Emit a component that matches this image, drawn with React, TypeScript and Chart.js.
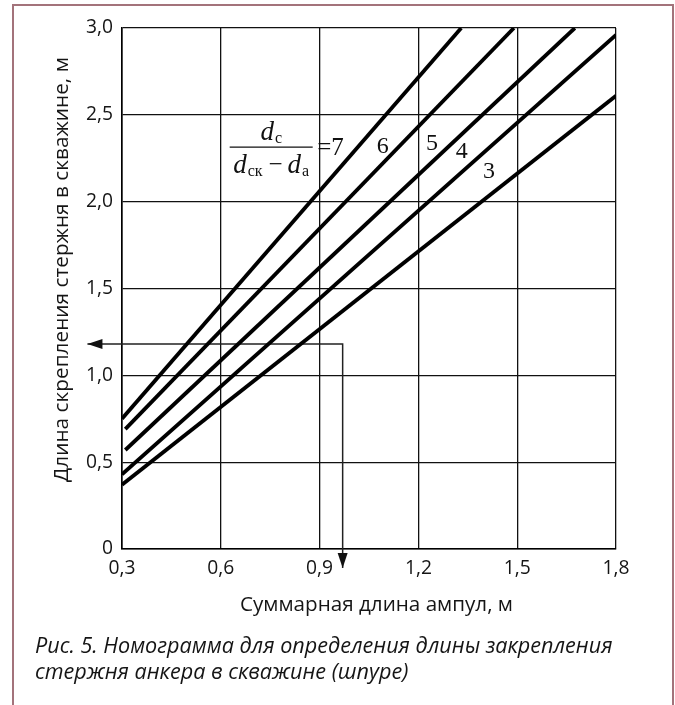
import React, { useEffect, useRef } from 'react';
import { Chart, registerables } from 'chart.js';

Chart.register(...registerables);

// ---- axis ticks ----
const xTickValues = [0.3, 0.6, 0.9, 1.2, 1.5, 1.8];
const xTickLabels = ['0,3', '0,6', '0,9', '1,2', '1,5', '1,8'];
const yTickValues = [0, 0.5, 1.0, 1.5, 2.0, 2.5, 3.0];
const yTickLabels = ['0', '0,5', '1,0', '1,5', '2,0', '2,5', '3,0'];

// ---- nomogram lines: d_c / (d_ck - d_a) = 7, 6, 5, 4, 3 ----
const ratioNames = ['7', '6', '5', '4', '3'];
const ratio7X = [0.30, 1.33];
const ratio7Y = [0.75, 3.00];
const ratio6X = [0.31, 1.49];
const ratio6Y = [0.69, 3.00];
const ratio5X = [0.31, 1.675];
const ratio5Y = [0.57, 3.00];
const ratio4X = [0.30, 1.80];
const ratio4Y = [0.43, 2.96];
const ratio3X = [0.30, 1.80];
const ratio3Y = [0.37, 2.61];

// ---- example reading (arrow path) ----
const exampleX = [0.195, 0.97, 0.97];
const exampleY = [1.18, 1.18, -0.11];

// ---- texts ----
const yTitle = 'Длина скрепления стержня в скважине, м';
const xTitle = 'Суммарная длина ампул, м';
const captionLines = [
  'Рис. 5. Номограмма для определения длины закрепления',
  'стержня анкера в скважине (шпуре)',
];

// ---- annotation anchors (data coordinates) ----
const formulaAnchor = { x: 0.753, y: 2.314 };
const ratioLabelAnchorsX = [1.092, 1.241, 1.332, 1.414]; // for 6, 5, 4, 3
const ratioLabelAnchorsY = [2.314, 2.332, 2.286, 2.171];

const SANS = '"Open Sans", "Noto Sans", sans-serif';
const SERIF = '"Liberation Serif", "DejaVu Serif", serif';

// font size that makes a text span a given width (layout styling)
function fitSize(text: string, style: string, target: number): number {
  const c = document.createElement('canvas').getContext('2d');
  if (!c) return 18;
  c.font = `${style} 100px ${SANS}`;
  const w = c.measureText(text).width;
  return w > 0 ? (100 * target) / w : 18;
}

const TEXT = '#151515';

export default function App() {
  const ref = useRef<HTMLCanvasElement>(null);
  const captionSize = fitSize(captionLines[0], 'italic', 578);

  useEffect(() => {
    const canvas = ref.current;
    if (!canvas) return;
    const tickSize = fitSize(xTickLabels[0], '', 27);
    const xTitleSize = fitSize(xTitle, '', 273);
    const yTitleSize = fitSize(yTitle, '', 425);

    const overlayPlugin = {
      id: 'overlay',
      afterDatasetsDraw(chart: any) {
        const { ctx, scales } = chart;
        const xs = scales.x;
        const ys = scales.y;
        ctx.save();

        // arrowheads on the example path
        const pts = exampleX.map((v, i) => [xs.getPixelForValue(v), ys.getPixelForValue(exampleY[i])]);
        const head = (tip: number[], from: number[]) => {
          const a = Math.atan2(tip[1] - from[1], tip[0] - from[0]);
          const L = 15;
          const W = 5;
          const bx = tip[0] - L * Math.cos(a);
          const by = tip[1] - L * Math.sin(a);
          ctx.beginPath();
          ctx.moveTo(tip[0], tip[1]);
          ctx.lineTo(bx + W * Math.sin(a), by - W * Math.cos(a));
          ctx.lineTo(bx - W * Math.sin(a), by + W * Math.cos(a));
          ctx.closePath();
          ctx.fillStyle = '#111';
          ctx.fill();
        };
        head(pts[0], pts[1]);
        head(pts[pts.length - 1], pts[pts.length - 2]);

        // axis titles
        ctx.fillStyle = TEXT;
        ctx.textAlign = 'center';
        ctx.textBaseline = 'middle';
        ctx.font = `${xTitleSize}px ${SANS}`;
        ctx.fillText(xTitle, (xs.left + xs.right) / 2 + 7.5, 605);
        ctx.save();
        ctx.translate(62, (ys.top + ys.bottom) / 2 - 19);
        ctx.rotate(-Math.PI / 2);
        ctx.font = `${yTitleSize}px ${SANS}`;
        ctx.fillText(yTitle, 0, 0);
        ctx.restore();

        // formula d_c / (d_ck - d_a) = 7
        const cx = xs.getPixelForValue(formulaAnchor.x);
        const cy = ys.getPixelForValue(formulaAnchor.y);
        ctx.fillStyle = '#111';
        ctx.strokeStyle = '#111';
        ctx.textBaseline = 'alphabetic';
        ctx.textAlign = 'left';
        const dFont = 'italic 27px ' + SERIF;
        const subFont = '16px ' + SERIF;
        const opFont = '25px ' + SERIF;

        ctx.font = dFont;
        const wd = ctx.measureText('d').width;
        ctx.font = subFont;
        const wc = ctx.measureText('с').width;
        const numW = wd + 1 + wc;
        let sx = cx - numW / 2;
        const nb = cy - 7;
        ctx.font = dFont;
        ctx.fillText('d', sx, nb);
        ctx.font = subFont;
        ctx.fillText('с', sx + wd + 1, nb + 3);

        ctx.lineWidth = 1.4;
        ctx.beginPath();
        ctx.moveTo(cx - 41.5, cy);
        ctx.lineTo(cx + 41.5, cy);
        ctx.stroke();

        const db = cy + 26;
        ctx.font = subFont;
        const wck = ctx.measureText('ск').width;
        const wa = ctx.measureText('а').width;
        ctx.font = opFont;
        const wm = ctx.measureText('−').width;
        const denW = wd + 1 + wck + 6 + wm + 5 + wd + 1 + wa;
        sx = cx - denW / 2;
        ctx.font = dFont;
        ctx.fillText('d', sx, db);
        sx += wd + 1;
        ctx.font = subFont;
        ctx.fillText('ск', sx, db + 3);
        sx += wck + 6;
        ctx.font = opFont;
        ctx.fillText('−', sx, db - 1);
        sx += wm + 5;
        ctx.font = dFont;
        ctx.fillText('d', sx, db);
        sx += wd + 1;
        ctx.font = subFont;
        ctx.fillText('а', sx, db + 3);

        ctx.font = opFont;
        ctx.fillText('=' + ratioNames[0], cx + 46, cy + 8);

        ctx.textAlign = 'center';
        ctx.textBaseline = 'middle';
        ctx.font = '24px ' + SERIF;
        ratioLabelAnchorsX.forEach((v, i) => {
          ctx.fillText(ratioNames[i + 1], xs.getPixelForValue(v), ys.getPixelForValue(ratioLabelAnchorsY[i]));
        });
        ctx.restore();
      },
    };

    const pairs = (xa: number[], ya: number[]) => xa.map((x, i) => ({ x, y: ya[i] }));
    const lineStyle = {
      borderColor: '#000',
      borderWidth: 3.8,
      pointRadius: 0,
      fill: false,
      tension: 0,
      borderCapStyle: 'butt' as const,
    };
    const chart = new Chart(canvas, {
      type: 'line',
      data: {
        datasets: [
          { label: ratioNames[0], data: pairs(ratio7X, ratio7Y), ...lineStyle },
          { label: ratioNames[1], data: pairs(ratio6X, ratio6Y), ...lineStyle },
          { label: ratioNames[2], data: pairs(ratio5X, ratio5Y), ...lineStyle },
          { label: ratioNames[3], data: pairs(ratio4X, ratio4Y), ...lineStyle },
          { label: ratioNames[4], data: pairs(ratio3X, ratio3Y), ...lineStyle },
          {
            label: 'example',
            data: pairs(exampleX, exampleY),
            borderColor: '#222',
            borderWidth: 1.5,
            pointRadius: 0,
            fill: false,
            tension: 0,
            clip: false,
          } as any,
        ],
      },
      options: {
        animation: false,
        responsive: false,
        devicePixelRatio: 1,
        events: [],
        layout: { padding: { left: 40, top: 28, right: 59, bottom: 88 } },
        plugins: { legend: { display: false }, tooltip: { enabled: false } },
        scales: {
          x: {
            type: 'linear',
            min: 0.3,
            max: 1.8,
            afterBuildTicks: (s: any) => {
              s.ticks = xTickValues.map((v) => ({ value: v }));
            },
            afterFit: (s: any) => {
              s.height = 68;
            },
            ticks: {
              callback: (_v: any, i: number) => xTickLabels[i],
              padding: Math.max(0, 568.5 - 549 - 0.6 * tickSize),
              color: TEXT,
              font: { family: SANS, size: tickSize },
              autoSkip: false,
              maxRotation: 0,
            },
            grid: { color: '#111', lineWidth: 1.3, drawTicks: false },
            border: { color: '#000', width: 1.6 },
            title: { display: false },
          },
          y: {
            type: 'linear',
            min: 0,
            max: 3,
            afterBuildTicks: (s: any) => {
              s.ticks = yTickValues.map((v) => ({ value: v }));
            },
            afterFit: (s: any) => {
              s.width = 82;
            },
            ticks: {
              callback: (_v: any, i: number) => yTickLabels[i],
              padding: 9,
              color: TEXT,
              font: { family: SANS, size: tickSize },
              autoSkip: false,
            },
            grid: { color: '#111', lineWidth: 1.3, drawTicks: false },
            border: { color: '#000', width: 1.6 },
            title: { display: false },
          },
        },
      },
      plugins: [overlayPlugin],
    });
    return () => chart.destroy();
  }, []);

  return (
    <div>
      <div
        style={{
          position: 'fixed',
          left: 12,
          top: 4,
          width: 662,
          height: 760,
          boxSizing: 'border-box',
          border: '2px solid #a3737b',
          borderBottom: 'none',
          background: '#fff',
        }}
      />
      <canvas
        ref={ref}
        width={675}
        height={705}
        style={{ position: 'fixed', left: 0, top: 0, width: 675, height: 705 }}
      />
      <div
        style={{
          position: 'fixed',
          left: 35,
          top: 632,
          fontFamily: SANS,
          fontStyle: 'italic',
          fontSize: captionSize,
          lineHeight: '26px',
          color: TEXT,
          whiteSpace: 'nowrap',
        }}
      >
        {captionLines.map((l, i) => (
          <div key={i}>{l}</div>
        ))}
      </div>
    </div>
  );
}
